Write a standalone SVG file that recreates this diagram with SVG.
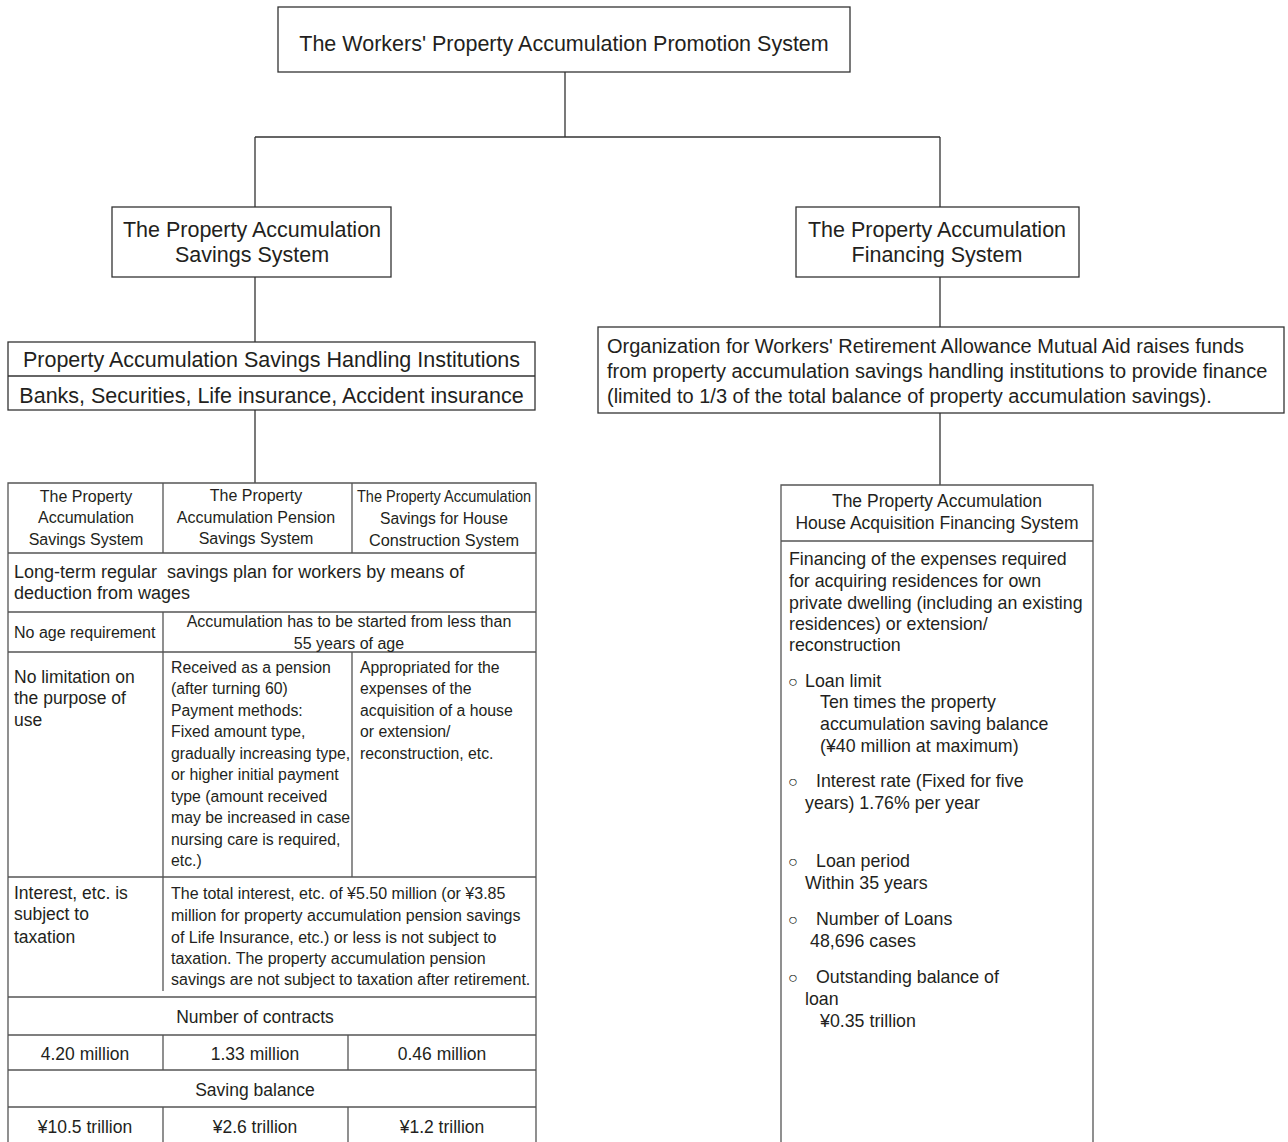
<svg xmlns="http://www.w3.org/2000/svg" width="1288" height="1142" viewBox="0 0 1288 1142">
<style>
text{font-family:"Liberation Sans",Arial,sans-serif;fill:#231f20}
.box{fill:#fff;stroke:#333;stroke-width:1.3}
.ln{fill:none;stroke:#333;stroke-width:1.3}
.tl{fill:none;stroke:#555;stroke-width:1.3}
.t21{font-size:21.5px;text-anchor:middle}
.t20{font-size:20px}
.h16{font-size:16px;text-anchor:middle}
.c16{font-size:15.8px}
.c17{font-size:17.5px}
.r17{font-size:17.8px}
.m17{font-size:17.5px;text-anchor:middle}
.bul{font-size:16px}
</style>
<rect width="1288" height="1142" fill="#fff"/>
<g id="connectors">
<path class="ln" d="M565 72V137M255 137H940M255 137V207M940 137V207M255 277V342M255 410V483M940 277V327M940 413V485"/>
</g>
<g id="top">
<rect class="box" x="278" y="7" width="572" height="65"/>
<text class="t21" x="564" y="50.5">The Workers' Property Accumulation Promotion System</text>
</g>
<g id="savings">
<rect class="box" x="112" y="207" width="279" height="70"/>
<text class="t21" x="252" y="236.5">The Property Accumulation</text>
<text class="t21" x="252" y="261.5">Savings System</text>
</g>
<g id="financing">
<rect class="box" x="796" y="207" width="283" height="70"/>
<text class="t21" x="937" y="236.5">The Property Accumulation</text>
<text class="t21" x="937" y="261.5">Financing System</text>
</g>
<g id="institutions">
<rect class="box" x="8" y="342" width="527" height="68"/>
<line class="ln" x1="8" y1="376" x2="535" y2="376"/>
<text class="t21" x="271.5" y="366.5">Property Accumulation Savings Handling Institutions</text>
<text class="t21" x="271.5" y="402.5">Banks, Securities, Life insurance, Accident insurance</text>
</g>
<g id="organization">
<rect class="box" x="598" y="327" width="686" height="86"/>
<text class="t20" x="607" y="353">Organization for Workers' Retirement Allowance Mutual Aid raises funds</text>
<text class="t20" x="607" y="378">from property accumulation savings handling institutions to provide finance</text>
<text class="t20" x="607" y="403">(limited to 1/3 of the total balance of property accumulation savings).</text>
</g>
<g id="savings-table">
<path class="tl" d="M8 1143V483H536V1143M8 553H536M8 612H536M8 652H536M8 877H536M8 997H536M8 1035H536M8 1070H536M8 1107H536M163 483V553M352 483V553M163 612V652M163 652V877M352 652V877M163 877V991M163 1035V1070M348 1035V1070M163 1107V1143M348 1107V1143"/>
<text class="h16" x="86" y="501.6">The Property</text>
<text class="h16" x="86" y="522.6">Accumulation</text>
<text class="h16" x="86" y="544.6">Savings System</text>
<text class="h16" x="256" y="500.6">The Property</text>
<text class="h16" x="256" y="522.6">Accumulation Pension</text>
<text class="h16" x="256" y="543.6">Savings System</text>
<text class="h16" x="444" y="501.6" textLength="174" lengthAdjust="spacingAndGlyphs">The Property Accumulation</text>
<text class="h16" x="444" y="523.6" textLength="128" lengthAdjust="spacingAndGlyphs">Savings for House</text>
<text class="h16" x="444" y="545.6" textLength="150" lengthAdjust="spacingAndGlyphs">Construction System</text>
<text x="14" y="578" style="font-size:18px" xml:space="preserve">Long-term regular  savings plan for workers by means of</text>
<text x="14" y="599" style="font-size:18px">deduction from wages</text>
<text class="h16" x="349" y="627">Accumulation has to be started from less than</text>
<text class="h16" x="349" y="648.6">55 years of age</text>
<text x="14" y="637.6" style="font-size:16px">No age requirement</text>
<text class="c17" x="14" y="683">No limitation on</text>
<text class="c17" x="14" y="704">the purpose of</text>
<text class="c17" x="14" y="726">use</text>
<text class="c16" x="171" y="672.6">Received as a pension</text>
<text class="c16" x="171" y="693.6">(after turning 60)</text>
<text class="c16" x="171" y="715.6">Payment methods:</text>
<text class="c16" x="171" y="736.6">Fixed amount type,</text>
<text class="c16" x="171" y="758.6">gradually increasing type,</text>
<text class="c16" x="171" y="779.6">or higher initial payment</text>
<text class="c16" x="171" y="801.6">type (amount received</text>
<text class="c16" x="171" y="822.6">may be increased in case</text>
<text class="c16" x="171" y="844.6">nursing care is required,</text>
<text class="c16" x="171" y="865.6">etc.)</text>
<text class="c16" x="360" y="672.6">Appropriated for the</text>
<text class="c16" x="360" y="693.6">expenses of the</text>
<text class="c16" x="360" y="715.6">acquisition of a house</text>
<text class="c16" x="360" y="736.6">or extension/</text>
<text class="c16" x="360" y="758.6">reconstruction, etc.</text>
<text class="c17" x="14" y="899">Interest, etc. is</text>
<text class="c17" x="14" y="920">subject to</text>
<text class="c17" x="14" y="943">taxation</text>
<text x="171" y="898.6" style="font-size:16px">The total interest, etc. of ¥5.50 million (or ¥3.85</text>
<text x="171" y="920.6" style="font-size:16px">million for property accumulation pension savings</text>
<text x="171" y="942.6" style="font-size:16px">of Life Insurance, etc.) or less is not subject to</text>
<text x="171" y="963.6" style="font-size:16px">taxation. The property accumulation pension</text>
<text x="171" y="984.6" style="font-size:16px">savings are not subject to taxation after retirement.</text>
<text class="m17" x="255" y="1023">Number of contracts</text>
<text class="m17" x="85" y="1060">4.20 million</text>
<text class="m17" x="255" y="1060">1.33 million</text>
<text class="m17" x="442" y="1060">0.46 million</text>
<text class="m17" x="255" y="1096">Saving balance</text>
<text class="m17" x="85" y="1133">¥10.5 trillion</text>
<text class="m17" x="255" y="1133">¥2.6 trillion</text>
<text class="m17" x="442" y="1133">¥1.2 trillion</text>
</g>
<g id="house-financing">
<path class="tl" d="M781 1143V485H1093V1143M781 541H1093"/>
<text class="m17" x="937" y="507">The Property Accumulation</text>
<text class="m17" x="937" y="529">House Acquisition Financing System</text>
<text class="r17" x="789" y="565">Financing of the expenses required</text>
<text class="r17" x="789" y="587">for acquiring residences for own</text>
<text class="r17" x="789" y="609">private dwelling (including an existing</text>
<text class="r17" x="789" y="630">residences) or extension/</text>
<text class="r17" x="789" y="651">reconstruction</text>
<text class="r17" y="687"><tspan x="788" class="bul">○</tspan><tspan x="805">Loan limit</tspan></text>
<text class="r17" x="820" y="708">Ten times the property</text>
<text class="r17" x="820" y="730">accumulation saving balance</text>
<text class="r17" x="820" y="752">(¥40 million at maximum)</text>
<text class="r17" y="787"><tspan x="788" class="bul">○</tspan><tspan x="816">Interest rate (Fixed for five</tspan></text>
<text class="r17" x="805" y="809">years) 1.76% per year</text>
<text class="r17" y="867"><tspan x="788" class="bul">○</tspan><tspan x="816">Loan period</tspan></text>
<text class="r17" x="805" y="889">Within 35 years</text>
<text class="r17" y="925"><tspan x="788" class="bul">○</tspan><tspan x="816">Number of Loans</tspan></text>
<text class="r17" x="810" y="947">48,696 cases</text>
<text class="r17" y="983"><tspan x="788" class="bul">○</tspan><tspan x="816">Outstanding balance of</tspan></text>
<text class="r17" x="805" y="1005">loan</text>
<text class="r17" x="820" y="1027">¥0.35 trillion</text>
</g>
</svg>
